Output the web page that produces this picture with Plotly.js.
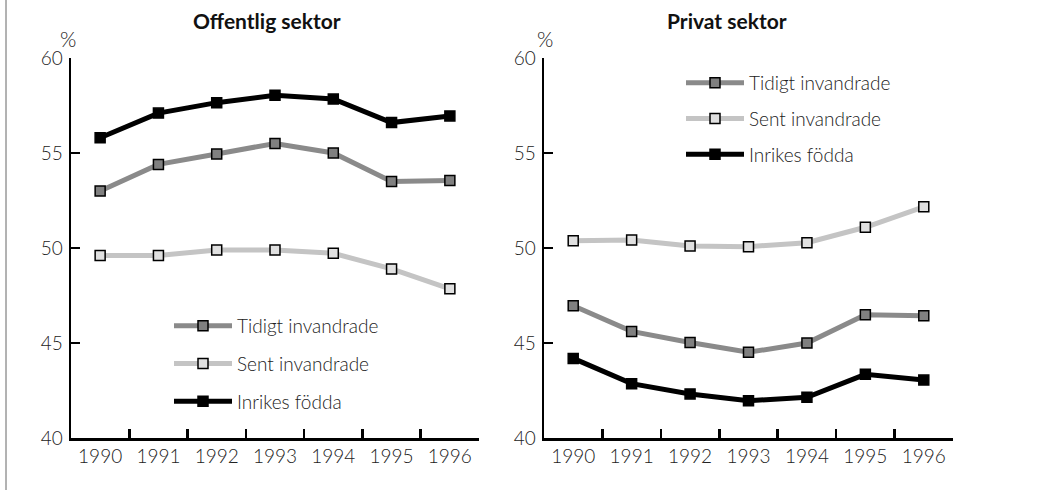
<!DOCTYPE html>
<html>
<head>
<meta charset="utf-8">
<script src="https://cdn.plot.ly/plotly-3.0.1.min.js"></script>
<style>
html,body{margin:0;padding:0;background:#fff;}
#chart{width:1039px;height:490px;}
</style>
</head>
<body>
<div id="chart"></div>
<script>
const years = ["1990","1991","1992","1993","1994","1995","1996"];
const seriesNames = ["Tidigt invandrade","Sent invandrade","Inrikes födda"];

// Offentlig sektor
const offTidigt  = [53.0, 54.4, 54.95, 55.5, 55.0, 53.5, 53.55];
const offSent    = [49.6, 49.6, 49.9, 49.9, 49.72, 48.9, 47.85];
const offInrikes = [55.8, 57.1, 57.65, 58.04, 57.84, 56.6, 56.95];

// Privat sektor
const privTidigt  = [46.96, 45.61, 45.03, 44.51, 45.0, 46.49, 46.44];
const privSent    = [50.38, 50.42, 50.1, 50.07, 50.28, 51.09, 52.17];
const privInrikes = [44.19, 42.86, 42.32, 41.96, 42.14, 43.35, 43.05];

const yTicks = [40, 45, 50, 55, 60];

const styles = [
  {line:'#8a8a8a', fill:'#808080'},
  {line:'#c4c4c4', fill:'#e0e0e0'},
  {line:'#000000', fill:'#000000'}
];

function mk(vals, i, xa, ya, leg){
  return {
    x: years, y: vals, name: seriesNames[i], type: 'scatter', mode: 'lines+markers',
    xaxis: xa, yaxis: ya, legend: leg, legendgroup: leg + i, legendrank: i + 1,
    line: {color: styles[i].line, width: 5},
    marker: {symbol: 'square', size: 10, color: styles[i].fill, line: {color: '#000', width: 1.5}},
    hoverinfo: 'skip'
  };
}

const data = [
  mk(offTidigt, 0, 'x', 'y', 'legend'),
  mk(offSent, 1, 'x', 'y', 'legend'),
  mk(offInrikes, 2, 'x', 'y', 'legend'),
  mk(privTidigt, 0, 'x2', 'y2', 'legend2'),
  mk(privSent, 1, 'x2', 'y2', 'legend2'),
  mk(privInrikes, 2, 'x2', 'y2', 'legend2')
];

const W = 1039, H = 490;
const FAM = 'Lato, "Open Sans", sans-serif';
const tickFont = {family: FAM, size: 19, color: '#222', weight: 300};

function xax(d0, d1, anchor){
  return {
    domain: [d0/W, d1/W], anchor: anchor, type: 'category',
    categoryorder: 'array', categoryarray: years,
    range: [-0.5, 6.5], tickson: 'boundaries',
    ticks: 'inside', ticklen: 9, tickwidth: 2.5, tickcolor: '#000',
    showline: true, linecolor: '#000', linewidth: 2.5,
    showgrid: false, zeroline: false, fixedrange: true,
    tickfont: tickFont, ticklabelstandoff: 0
  };
}
function yax(anchor){
  return {
    domain: [1 - 438/H, 1 - 58/H], anchor: anchor,
    range: [40, 60], tickvals: yTicks, ticktext: yTicks.map(String),
    ticks: 'inside', ticklen: 9, tickwidth: 2.5, tickcolor: '#000',
    showline: true, linecolor: '#000', linewidth: 2.5,
    showgrid: false, zeroline: false, fixedrange: true,
    tickfont: tickFont, ticklabelstandoff: 2
  };
}

const legFont = {family: FAM, size: 19, color: '#222', weight: 300};

const layout = {
  width: W, height: H, autosize: false,
  margin: {l: 0, r: 0, t: 0, b: 0},
  paper_bgcolor: '#fff', plot_bgcolor: '#fff',
  showlegend: true,
  xaxis: xax(71, 479, 'y'),
  yaxis: yax('x'),
  xaxis2: xax(544, 953, 'y2'),
  yaxis2: yax('x2'),
  legend: {
    x: 169/W, y: 1 - 307/H, xanchor: 'left', yanchor: 'top',
    bgcolor: 'rgba(0,0,0,0)', font: legFont, traceorder: 'grouped',
    tracegroupgap: 10, itemwidth: 58, itemclick: false, itemdoubleclick: false
  },
  legend2: {
    x: 681/W, y: 1 - 64/H, xanchor: 'left', yanchor: 'top',
    bgcolor: 'rgba(0,0,0,0)', font: legFont, traceorder: 'grouped',
    tracegroupgap: 8, itemwidth: 58, itemclick: false, itemdoubleclick: false
  },
  annotations: [
    {text: '<b>Offentlig sektor</b>', xref: 'paper', yref: 'paper', x: 267/W, y: 1 - 21/H,
     xanchor: 'center', yanchor: 'middle', showarrow: false,
     font: {family: FAM, size: 21, color: '#111'}},
    {text: '<b>Privat sektor</b>', xref: 'paper', yref: 'paper', x: 727/W, y: 1 - 21/H,
     xanchor: 'center', yanchor: 'middle', showarrow: false,
     font: {family: FAM, size: 21, color: '#111'}},
    {text: '%', xref: 'paper', yref: 'paper', x: 68/W, y: 1 - 39/H,
     xanchor: 'center', yanchor: 'middle', showarrow: false,
     font: {family: FAM, size: 21, color: '#222', weight: 300}},
    {text: '%', xref: 'paper', yref: 'paper', x: 545/W, y: 1 - 39/H,
     xanchor: 'center', yanchor: 'middle', showarrow: false,
     font: {family: FAM, size: 21, color: '#222', weight: 300}}
  ],
  shapes: [
    {type: 'line', xref: 'paper', yref: 'paper', x0: 6/W, x1: 6/W, y0: 0, y1: 1,
     line: {color: '#666', width: 1}}
  ]
};

Plotly.newPlot('chart', data, layout, {displayModeBar: false, staticPlot: true});
</script>
</body>
</html>
